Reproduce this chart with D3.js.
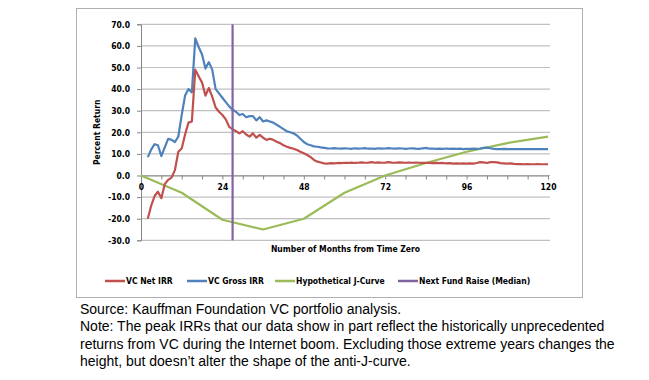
<!DOCTYPE html>
<html>
<head>
<meta charset="utf-8">
<script src="https://cdn.jsdelivr.net/npm/d3@7/dist/d3.min.js"></script>
<style>
  html, body { margin: 0; padding: 0; background: #fff; }
  svg { display: block; }
  .lbl { font-family: "DejaVu Sans Condensed", "DejaVu Sans", sans-serif; font-weight: bold; fill: #000; }
  .note { font-family: "Liberation Sans", Arial, sans-serif; font-size: 14px; fill: #000; }
</style>
</head>
<body>
<svg id="chart" width="649" height="380"></svg>
<script>
// ---------- DATA ----------
const seriesNames = ["VC Net IRR", "VC Gross IRR", "Hypothetical J-Curve", "Next Fund Raise (Median)"];
const seriesColors = ["#c0504d", "#4f81bd", "#9bbb59", "#8064a2"];

// months 2..120 for the IRR series
const irrMonths = d3.range(2, 121);

const netIRR = [
  -20, -14, -9.5, -7.5, -10.5, -4, -2, -1, 2.5, 11,          // 2-11
  12.5, 19, 24.5, 25, 49, 46, 43, 37, 40.5, 36.5,          // 12-21
  31.5, 29.5, 28, 26, 22.5, 21.5, 20.5, 19.5, 20.5, 19,    // 22-31
  18, 19.5, 17.5, 18.8, 17.5, 16.5, 17, 16.5, 15.6, 15,    // 32-41
  14, 13.3, 12.8, 12.4, 11.8, 11, 10.3, 9.5, 8.5, 7.2,     // 42-51
  6.4, 6, 5.6, 5.5, 5.7, 5.6, 5.8, 5.7, 5.9, 5.8,          // 52-61
  6, 5.8, 5.9, 6.1, 5.9, 6, 6.2, 5.9, 6.1, 5.9,            // 62-71
  6, 6.2, 6, 5.9, 6.1, 6, 5.9, 6, 5.9, 6,                  // 72-81
  5.9, 5.8, 5.9, 5.8, 5.7, 5.8, 5.7, 5.8, 5.6, 5.7,        // 82-91
  5.5, 5.6, 5.5, 5.6, 5.5, 5.6, 5.5, 5.8, 6.2, 6.1,        // 92-101
  5.8, 6.2, 6.2, 6.1, 5.7, 5.6, 5.5, 5.6, 5.4, 5.3,        // 102-111
  5.3, 5.2, 5.3, 5.2, 5.2, 5.3, 5.2, 5.2, 5.2              // 112-120
];

const grossIRR = [
  8.5, 12, 14.5, 14, 9, 13, 17, 16.5, 15.5, 18,            // 2-11
  28, 37, 40, 38.5, 63.5, 59.5, 56, 49.5, 52.5, 49,        // 12-21
  40, 38, 36, 34, 32, 30.5, 29.5, 28, 28.5, 27,            // 22-31
  27.5, 27.5, 25.5, 27, 25, 25.5, 25, 24.5, 23.5, 22.5,    // 32-41
  21.5, 20.5, 20, 19.5, 18.5, 17, 15.5, 14.5, 14, 13.5,    // 42-51
  13.3, 13, 12.8, 12.6, 12.5, 12.7, 12.5, 12.4, 12.6, 12.5,// 52-61
  12.3, 12.6, 12.4, 12.5, 12.7, 12.4, 12.5, 12.3, 12.6, 12.4,// 62-71
  12.5, 12.7, 12.5, 12.4, 12.6, 12.5, 12.3, 12.5, 12.6, 12.4,// 72-81
  12.3, 12.6, 12.8, 12.4, 12.5, 12.3, 12.4, 12.3, 12.5, 12.3,// 82-91
  12.4, 12.3, 12.4, 12.2, 12.3, 12.3, 12.4, 12.3, 12.5, 12.8,// 92-101
  12.9, 12.6, 12.3, 12.2, 12.2, 12.3, 12.2, 12.2, 12.2, 12.2,// 102-111
  12.2, 12.2, 12.2, 12.2, 12.2, 12.2, 12.2, 12.2, 12.2     // 112-120
];

const jMonths = [0, 12, 24, 36, 48, 60, 72, 84, 96, 108, 120];
const jCurve  = [0, -8, -20.5, -25, -20, -8, 0, 5.8, 11, 15, 18];

const fundRaiseMonth = 27;

const yTicks = [-30, -20, -10, 0, 10, 20, 30, 40, 50, 60, 70];
const xLabelTicks = [0, 24, 48, 72, 96, 120];
const xMinorTicks = d3.range(0, 121, 6);

const noteLines = [
  "Source: Kauffman Foundation VC portfolio analysis.",
  "Note: The peak IRRs that our data show in part reflect the historically unprecedented",
  "returns from VC during the Internet boom. Excluding those extreme years changes the",
  "height, but doesn\u2019t alter the shape of the anti-J-curve."
];

// ---------- LAYOUT ----------
const svg = d3.select("#chart");
const plotL = 141, plotR = 548, gridR = 550, plotT = 24.3, plotB = 240.3;
const x = d3.scaleLinear().domain([0, 120]).range([plotL, plotR]);
const y = d3.scaleLinear().domain([-30, 70]).range([plotB, plotT]);

// frame
svg.append("rect").attr("x", 76.5).attr("y", 8.5).attr("width", 506).attr("height", 289)
  .attr("fill", "none").attr("stroke", "#b0b0b0").attr("stroke-width", 1);

// gridlines
svg.append("g").selectAll("line").data(yTicks).join("line")
  .attr("x1", plotL).attr("x2", gridR)
  .attr("y1", d => y(d)).attr("y2", d => y(d))
  .attr("stroke", "#c0c0c0").attr("stroke-width", 1.2);

// y axis
const yAxis = svg.append("g").attr("transform", `translate(${plotL},0)`)
  .call(d3.axisLeft(y).tickValues(yTicks).tickSize(4).tickPadding(7).tickFormat(d => d.toFixed(1)));
yAxis.select(".domain").attr("stroke", "#868686");
yAxis.selectAll(".tick line").attr("stroke", "#868686");
yAxis.selectAll("text").attr("class", "lbl").style("font-size", "8.5px").attr("font-family", null);

// x axis (at zero)
const xAxis = svg.append("g").attr("transform", `translate(0,${y(0)})`)
  .call(d3.axisBottom(x).tickValues(xMinorTicks).tickSize(4).tickSizeOuter(0)
    .tickFormat(d => xLabelTicks.includes(d) ? String(d) : ""));
xAxis.select(".domain").attr("stroke", "#868686");
xAxis.selectAll(".tick line").attr("stroke", "#868686");
xAxis.selectAll("text").attr("class", "lbl").style("font-size", "8.5px").attr("font-family", null).attr("dy", "0.9em");

// axis titles
svg.append("text").attr("class", "lbl").style("font-size", "8.5px")
  .attr("text-anchor", "middle")
  .attr("transform", `translate(100,${(plotT + plotB) / 2}) rotate(-90)`)
  .text("Percent Return");
svg.append("text").attr("class", "lbl").style("font-size", "8.5px")
  .attr("text-anchor", "middle").attr("x", (plotL + gridR) / 2).attr("y", 252)
  .text("Number of Months from Time Zero");

// lines
const line = d3.line().x(d => x(d[0])).y(d => y(d[1]));
const netData = irrMonths.map((m, i) => [m, netIRR[i]]);
const grossData = irrMonths.map((m, i) => [m, grossIRR[i]]);
const jData = jMonths.map((m, i) => [m, jCurve[i]]);

svg.append("path").datum(jData).attr("d", line)
  .attr("fill", "none").attr("stroke", seriesColors[2]).attr("stroke-width", 2.2).attr("stroke-linejoin", "round");
svg.append("path").datum(grossData).attr("d", line)
  .attr("fill", "none").attr("stroke", seriesColors[1]).attr("stroke-width", 2.2).attr("stroke-linejoin", "round");
svg.append("path").datum(netData).attr("d", line)
  .attr("fill", "none").attr("stroke", seriesColors[0]).attr("stroke-width", 2.2).attr("stroke-linejoin", "round");

// next fund raise vertical line
svg.append("line")
  .attr("x1", x(fundRaiseMonth)).attr("x2", x(fundRaiseMonth))
  .attr("y1", y(70)).attr("y2", y(-30))
  .attr("stroke", seriesColors[3]).attr("stroke-width", 2.2);

// legend
const legendX = [105, 187, 275, 398];
const legend = svg.append("g");
seriesNames.forEach((name, i) => {
  const g = legend.append("g").attr("transform", `translate(${legendX[i]},281)`);
  g.append("line").attr("x1", 0).attr("x2", 20).attr("y1", 0).attr("y2", 0)
    .attr("stroke", seriesColors[i]).attr("stroke-width", 2.5);
  g.append("text").attr("class", "lbl").style("font-size", "8.5px")
    .attr("x", 21).attr("y", 3).text(name);
});

// notes
svg.append("g").selectAll("text").data(noteLines).join("text")
  .attr("class", "note").attr("x", 80).attr("y", (d, i) => 314 + i * 17.3)
  .text(d => d);
</script>
</body>
</html>
